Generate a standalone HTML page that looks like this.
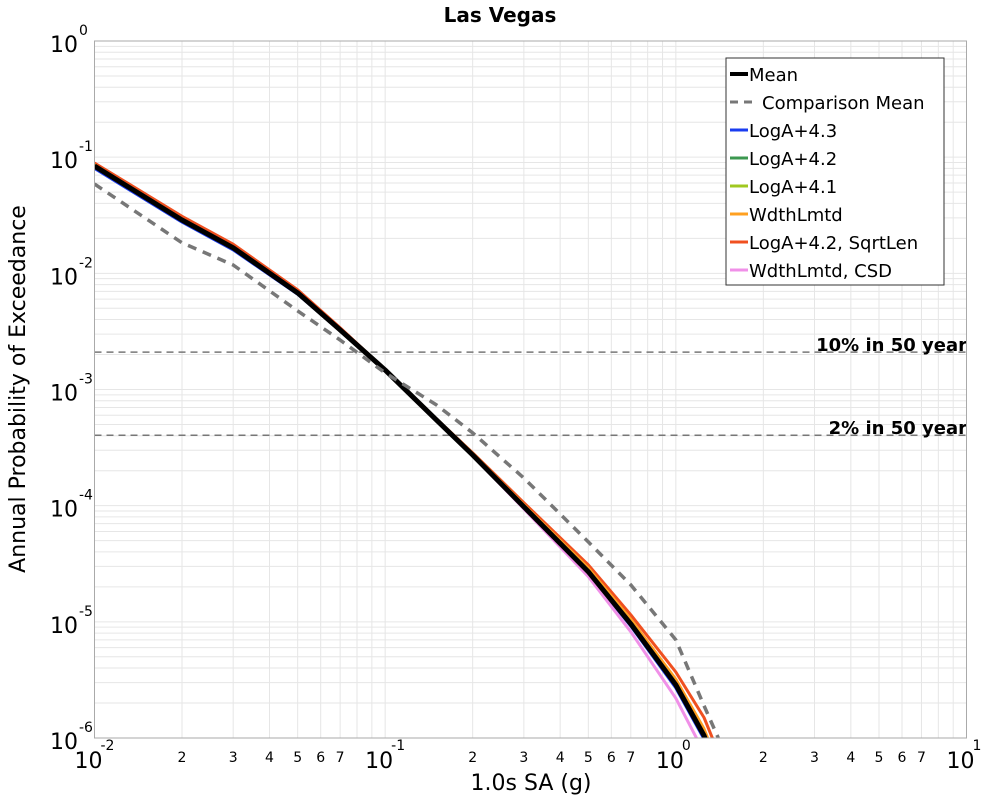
<!DOCTYPE html>
<html><head><meta charset="utf-8"><style>
body{margin:0;background:#fff;font-family:"DejaVu Sans","Liberation Sans",sans-serif}
svg{display:block}
</style></head><body>
<svg id="chart" width="1000" height="800" font-family="DejaVu Sans, Liberation Sans, sans-serif">
<text x="500" y="22" text-anchor="middle" font-size="20" font-weight="bold">Las Vegas</text>
<g id="grid"></g>
<g id="ticks"></g>
<g id="series"></g>
<rect x="94.5" y="41" width="872" height="697" fill="none" stroke="#aaa"/>
<text x="531" y="790" text-anchor="middle" font-size="22">1.0s SA (g)</text>
<text transform="translate(25,389) rotate(-90)" text-anchor="middle" font-size="22">Annual Probability of Exceedance</text>
<g id="legend"></g>
</svg>
<script>
const xs=[0.01,0.02,0.03,0.05,0.07,0.1,0.15,0.2,0.3,0.5,0.7,1.0,1.25,1.4];
const meanY=[0.084,0.0288,0.0166,0.00678,0.00326,0.00147,5.47e-4,2.73e-4,9.8e-5,2.7e-5,9.6e-6,2.87e-6,1.05e-6,5e-7];
const compY=[0.0588,0.0183,0.0118,0.00475,0.00267,0.00139,7.37e-4,4.23e-4,1.73e-4,4.88e-5,2.08e-5,7.0e-6,1.9e-6,1.0e-6];
const logA43Y=[0.080,0.0276,0.0159,0.0066,0.0032,0.00145,5.4e-4,2.7e-4,9.5e-5,2.6e-5,9.2e-6,2.7e-6,9.8e-7,4.5e-7];
const logA42Y=[0.083,0.0285,0.0165,0.0068,0.00326,0.00147,5.45e-4,2.72e-4,9.7e-5,2.68e-5,9.5e-6,2.85e-6,1.04e-6,5e-7];
const logA41Y=[0.085,0.029,0.0167,0.0068,0.00326,0.00146,5.4e-4,2.68e-4,9.6e-5,2.7e-5,9.6e-6,2.9e-6,1.06e-6,5e-7];
const wdthY=[0.086,0.0295,0.0169,0.0069,0.00332,0.0015,5.6e-4,2.82e-4,1.02e-4,2.9e-5,1.05e-5,3.2e-6,1.2e-6,5.8e-7];
const sqrtY=[0.089,0.031,0.0178,0.0072,0.0034,0.00148,5.6e-4,2.85e-4,1.06e-4,3.1e-5,1.15e-5,3.7e-6,1.5e-6,7.5e-7];
const csdY=[0.083,0.0285,0.0164,0.0067,0.0032,0.00145,5.4e-4,2.68e-4,9.4e-5,2.45e-5,8.2e-6,2.2e-6,7.5e-7,3.5e-7];
const hazardLevels=[0.0021,0.000404];
const hazardLabels=["10% in 50 year","2% in 50 year"];
const legendLabels=["Mean","Comparison Mean","LogA+4.3","LogA+4.2","LogA+4.1","WdthLmtd","LogA+4.2, SqrtLen","WdthLmtd, CSD"];

const L=94.5,R=966.5,T=41,B=738;
const X=v=>L+(Math.log10(v)+2)/3*(R-L);
const Y=v=>T+(-Math.log10(v))/6*(B-T);
const NS="http://www.w3.org/2000/svg";
function mk(p,t,a){const e=document.createElementNS(NS,t);for(const k in a)e.setAttribute(k,a[k]);p.appendChild(e);return e;}
const grid=document.getElementById('grid'),ticks=document.getElementById('ticks'),ser=document.getElementById('series'),leg=document.getElementById('legend');
// grid
for(let d=-2;d<1;d++)for(let m=1;m<10;m++){const v=m*Math.pow(10,d);if(v<=0.01)continue;const x=X(v);
 const g=mk(grid,'line',{x1:x,x2:x,y1:T,y2:B,stroke:'#e6e6e6'});
 
 }
for(let d=-6;d<0;d++)for(let m=1;m<10;m++){const v=m*Math.pow(10,d);if(v<=1e-6)continue;const y=Y(v);
 const g=mk(grid,'line',{x1:L,x2:R,y1:y,y2:y,stroke:'#e6e6e6'});
 
 }
// x tick labels
for(let d=-2;d<=1;d++){const x=X(Math.pow(10,d));
 const t=mk(ticks,'text',{x:x-6,y:768,'text-anchor':'middle','font-size':22});
 
 
 t.textContent='10';
 const s=mk(ticks,'text',{x:x+6,y:750,'font-size':14});s.textContent=String(d);
 
 
 if(d<1)for(let m=2;m<=7;m++){const u=mk(ticks,'text',{x:X(m*Math.pow(10,d)),y:762,'text-anchor':'middle','font-size':14});u.textContent=m;
  
  }}
for(let d=0;d>=-6;d--){const y=Y(Math.pow(10,d));
 const t=mk(ticks,'text',{x:78,y:y+11,'text-anchor':'end','font-size':22});t.textContent='10';
 
 
 const s=mk(ticks,'text',{x:79,y:y-6,'font-size':14});s.textContent=String(d);
 
 }
// hazard lines
hazardLevels.forEach((v,i)=>{const y=Y(v);
 const l=mk(ser,'line',{x1:L,x2:R,y1:y,y2:y,stroke:'#777','stroke-width':1.5,'stroke-dasharray':'7,5'});
 
 
 const t=mk(ser,'text',{x:967,y:y-1,'text-anchor':'end','font-size':18,'font-weight':'bold'});t.textContent=hazardLabels[i];
 
 });
// clip
const defs=mk(document.getElementById('chart'),'defs',{});const cp=mk(defs,'clipPath',{id:'clip'});mk(cp,'rect',{x:L,y:T,width:R-L,height:B-T});
const series=[
 [sqrtY,'#f05020',3,null,'series-loga42-sqrtlen'],
 [wdthY,'#ffa020',3,null,'series-wdthlmtd'],
 [logA41Y,'#a0c820',3,null,'series-loga41'],
 [logA42Y,'#3c9850',3,null,'series-loga42'],
 [logA43Y,'#1a3cf0',3,null,'series-loga43'],
 [csdY,'#f090e8',3,null,'series-wdthlmtd-csd'],
 [meanY,'#000',5,null,'series-mean'],
 [compY,'#777',3.5,'9,7','series-comparison-mean']];
series.forEach(([ys,c,w,da,n])=>{const d=xs.map((x,i)=>(i?'L':'M')+X(x).toFixed(1)+','+Y(ys[i]).toFixed(1)).join('');
 const p=mk(ser,'path',{d:d,fill:'none',stroke:c,'stroke-width':w,'clip-path':'url(#clip)','stroke-linejoin':'round'});
 if(da)p.setAttribute('stroke-dasharray',da);
 
 });
// legend
const box=mk(leg,'rect',{x:726,y:58,width:218,height:227,fill:'#fff',stroke:'#333'});


const lc=['#000','#777','#1a3cf0','#3c9850','#a0c820','#ffa020','#f05020','#f090e8'];
legendLabels.forEach((s,i)=>{const y=74+i*28;
 const ln=mk(leg,'line',{x1:730,x2:i==1?756:748,y1:y,y2:y,stroke:lc[i],'stroke-width':i==0?4:3});
 if(i==1)ln.setAttribute('stroke-dasharray','8,6');
 
 
 const t=mk(leg,'text',{x:i==1?762:749,y:y+7,'font-size':18});t.textContent=s;
 
 });
</script>
</body></html>
